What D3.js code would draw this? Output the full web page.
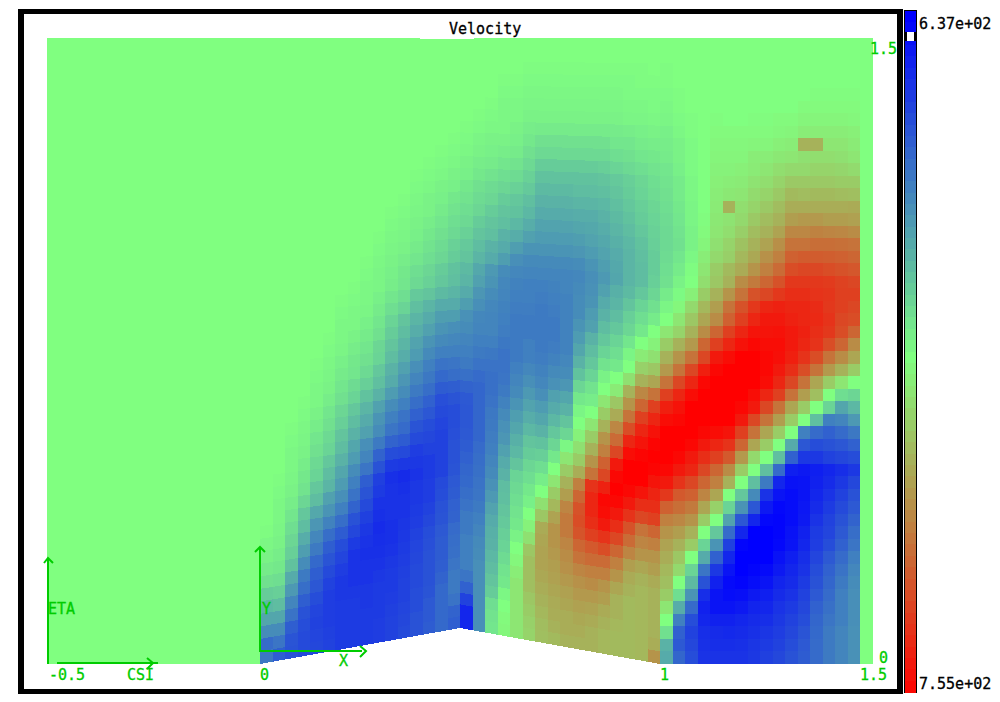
<!DOCTYPE html>
<html><head><meta charset="utf-8">
<script src="https://cdn.jsdelivr.net/npm/d3@7"></script>
<style>html,body{margin:0;background:#fff}svg{display:block}text{font-family:"DejaVu Sans Mono",monospace;font-size:15px;stroke-width:.3px}</style>
</head><body><svg id="c" width="1000" height="702"></svg>
<script>
// Velocity deviation from mid-range, percent of half range. Each list is one mesh column, wall upward; unlisted cells are 0.
const col00=[-53,-58,-45,-35,-28,-20,-12,-8,-5,-3,-1];
const col01=[-63,-54,-45,-35,-26,-19,-13,-9,-7,-5,-4,-3,-3,-2,-1];
const col02=[-68,-67,-63,-55,-48,-40,-33,-24,-19,-16,-13,-10,-7,-5,-4,-3,-3,-2,-1];
const col03=[-71,-71,-70,-68,-63,-57,-52,-45,-38,-32,-26,-22,-16,-11,-9,-7,-5,-4,-3,-2,-1];
const col04=[-72,-73,-74,-73,-70,-66,-63,-59,-52,-47,-41,-34,-26,-22,-17,-15,-12,-10,-7,-5,-3,-3,-2,-1];
const col05=[-74,-75,-76,-76,-76,-74,-71,-67,-63,-57,-49,-42,-37,-29,-26,-22,-17,-15,-12,-10,-7,-5,-4,-3,-2,-1];
const col06=[-77,-77,-77,-77,-78,-78,-76,-73,-70,-64,-57,-50,-44,-39,-35,-30,-26,-23,-19,-16,-12,-10,-8,-6,-4,-3,-3,-2,-1];
const col07=[-77,-77,-77,-77,-78,-80,-80,-80,-77,-72,-68,-61,-55,-50,-45,-39,-35,-30,-26,-22,-17,-14,-10,-9,-7,-5,-3,-3,-2,-1];
const col08=[-77,-77,-77,-78,-78,-80,-80,-81,-80,-78,-75,-71,-67,-63,-54,-48,-44,-37,-33,-29,-24,-19,-15,-12,-10,-8,-6,-4,-3,-3,-2,-1];
const col09=[-76,-76,-77,-77,-77,-78,-80,-81,-82,-83,-81,-80,-77,-75,-68,-61,-52,-45,-42,-37,-30,-25,-22,-17,-16,-12,-10,-8,-6,-4,-4,-3,-2,-1];
const col10=[-74,-74,-75,-76,-77,-77,-78,-80,-81,-81,-80,-80,-80,-81,-77,-70,-61,-54,-50,-45,-39,-33,-30,-26,-23,-20,-17,-13,-10,-7,-6,-5,-4,-3,-2,-1];
const col11=[-71,-72,-73,-74,-74,-75,-76,-77,-78,-79,-80,-80,-81,-83,-78,-71,-64,-58,-55,-50,-45,-41,-37,-32,-29,-26,-23,-17,-13,-10,-9,-7,-5,-4,-3,-2,-1];
const col12=[-68,-68,-70,-70,-71,-71,-72,-73,-74,-76,-77,-78,-78,-80,-78,-76,-71,-67,-62,-57,-52,-48,-44,-39,-36,-32,-29,-25,-21,-15,-13,-10,-8,-6,-5,-4,-3,-2,-1];
const col13=[-64,-65,-65,-67,-68,-68,-68,-69,-70,-72,-74,-76,-76,-77,-77,-74,-72,-70,-66,-62,-57,-53,-50,-46,-42,-37,-33,-29,-23,-18,-16,-13,-11,-9,-7,-5,-5,-3,-2,-1];
const col14=[-59,-59,-59,-59,-61,-63,-64,-64,-65,-67,-68,-70,-71,-74,-74,-74,-74,-73,-71,-69,-64,-59,-55,-50,-46,-42,-38,-33,-27,-22,-20,-16,-14,-12,-10,-8,-6,-5,-3,-2,-1];
const col15=[-63,-61,-55,-52,-52,-54,-56,-57,-58,-61,-62,-64,-65,-67,-68,-68,-69,-70,-70,-67,-63,-57,-54,-50,-47,-44,-38,-33,-29,-25,-24,-20,-18,-15,-13,-11,-9,-6,-5,-3,-2,-1];
const col16=[-85,-85,-74,-62,-54,-50,-50,-50,-52,-52,-55,-57,-59,-60,-62,-64,-65,-66,-66,-65,-61,-56,-52,-50,-48,-45,-43,-38,-33,-29,-27,-23,-21,-18,-15,-13,-11,-9,-6,-5,-3,-2,-1];
const col17=[-44,-44,-44,-44,-44,-44,-45,-46,-48,-50,-52,-54,-55,-56,-57,-58,-60,-60,-60,-60,-60,-58,-55,-52,-50,-48,-47,-44,-41,-37,-34,-29,-26,-23,-20,-16,-14,-12,-9,-7,-5,-4,-2,-1];
const col18=[-10,-11,-13,-20,-23,-26,-28,-30,-31,-33,-36,-40,-43,-46,-48,-50,-51,-52,-53,-55,-56,-56,-55,-53,-50,-48,-48,-47,-45,-42,-40,-33,-30,-25,-23,-20,-16,-14,-11,-8,-6,-5,-3,-2,-1];
const col19=[3,2,0,-3,-9,-11,-14,-17,-19,-21,-23,-25,-26,-30,-33,-37,-41,-43,-46,-49,-52,-54,-55,-55,-53,-51,-50,-49,-48,-47,-45,-38,-33,-30,-25,-23,-20,-16,-13,-10,-7,-5,-3,-3,-3,-2,-1];
const col20=[10,10,10,10,10,7,3,0,-5,-9,-11,-13,-15,-17,-23,-28,-31,-35,-38,-42,-46,-48,-50,-52,-52,-52,-52,-51,-50,-49,-47,-44,-38,-32,-28,-24,-22,-18,-14,-11,-8,-6,-5,-3,-3,-2,-1];
const col21=[17,18,20,22,25,25,25,22,12,5,0,-6,-9,-13,-16,-20,-23,-28,-32,-36,-40,-44,-47,-50,-50,-52,-52,-51,-50,-50,-48,-46,-42,-37,-32,-28,-25,-21,-18,-15,-12,-9,-7,-5,-4,-3,-2,-1];
const col22=[25,26,28,30,32,34,36,36,35,33,22,12,0,-7,-13,-19,-24,-30,-35,-39,-44,-47,-49,-51,-52,-52,-52,-52,-51,-50,-48,-46,-42,-39,-36,-33,-30,-27,-24,-20,-15,-12,-8,-5,-4,-3,-2,-1];
const col23=[27,30,32,33,35,37,38,40,42,42,36,28,20,10,0,-9,-16,-22,-28,-33,-37,-43,-46,-49,-51,-52,-52,-51,-50,-49,-48,-46,-42,-39,-36,-33,-30,-27,-24,-20,-15,-12,-8,-5,-4,-3,-2,-1];
const col24=[30,32,32,35,37,40,43,45,48,52,52,48,38,30,20,10,-3,-16,-23,-30,-35,-41,-45,-47,-49,-49,-49,-49,-49,-48,-48,-46,-42,-39,-36,-33,-30,-27,-24,-20,-15,-12,-8,-5,-4,-3,-2,-1];
const col25=[30,32,34,37,40,43,48,55,60,67,70,68,60,50,32,20,12,5,0,-4,-9,-16,-24,-30,-35,-39,-42,-45,-45,-46,-47,-45,-41,-38,-35,-32,-29,-26,-24,-20,-15,-12,-8,-5,-4,-3,-2,-1];
const col26=[30,30,33,36,40,45,50,58,65,75,82,85,85,80,55,42,30,20,10,0,-7,-11,-17,-22,-26,-30,-37,-39,-42,-43,-44,-42,-39,-36,-34,-32,-29,-26,-24,-20,-15,-12,-8,-5,-4,-3,-2,-1];
const col27=[28,28,30,33,38,42,50,58,70,80,90,95,97,87,72,62,50,42,30,20,10,0,-5,-11,-17,-22,-26,-30,-33,-37,-40,-38,-36,-34,-32,-30,-28,-25,-23,-19,-15,-12,-8,-5,-4,-3,-2,-1];
const col28=[27,27,28,30,30,35,42,50,60,72,82,90,97,100,97,90,72,58,47,33,22,8,0,-9,-13,-17,-22,-26,-29,-31,-35,-34,-33,-31,-29,-27,-25,-23,-21,-17,-13,-10,-8,-5,-4,-3,-2,-1];
const col29=[27,27,27,27,27,30,33,38,48,58,68,80,90,97,100,100,95,85,70,55,42,30,12,0,-4,-10,-16,-19,-23,-27,-29,-29,-29,-28,-26,-24,-22,-20,-19,-15,-12,-10,-7,-4,-3,-2,-2,-1];
const col30=[28,28,28,28,28,28,30,35,42,48,55,72,82,92,100,100,98,92,85,75,60,47,30,18,8,0,-9,-13,-17,-22,-26,-26,-25,-24,-22,-20,-19,-17,-16,-13,-10,-8,-6,-4,-3,-2,-1,-1];
const col31=[42,32,30,30,30,30,33,38,42,50,60,75,82,86,92,98,100,98,93,85,75,55,35,22,12,5,0,-8,-12,-16,-19,-20,-20,-19,-18,-17,-16,-14,-13,-11,-9,-7,-5,-3,-2,-2,-1];
const col32=[-33,-30,-12,0,10,20,25,28,32,36,42,50,62,78,90,97,100,100,100,95,88,75,55,40,30,20,10,0,-4,-8,-12,-13,-14,-15,-15,-14,-13,-12,-11,-10,-8,-7,-6,-4,-3,-2,-1,-1];
const col33=[-60,-65,-62,-50,-32,-13,0,15,22,30,38,47,57,65,80,90,97,100,100,97,93,85,72,55,42,30,17,10,3,-2,-5,-8,-10,-12,-11,-10,-9,-8,-8,-6,-5,-5,-3,-2,-1,-1];
const col34=[-70,-72,-74,-70,-58,-42,-27,-17,0,20,30,42,52,62,72,85,90,97,100,100,100,95,85,72,55,40,30,22,15,6,0,-1,-3,-5,-5,-4,-4,-3,-3,-2,-2,-2,-1,-1];
const col35=[-80,-81,-82,-85,-87,-82,-68,-54,-33,-17,0,20,35,48,60,72,82,90,97,100,100,100,97,88,72,60,45,35,28,20,13,10,7,4,2,1];
const col36=[-80,-82,-83,-87,-92,-92,-87,-78,-62,-42,-22,0,18,35,50,60,75,85,95,100,100,100,100,97,90,75,60,45,38,30,22,20,15,12,10,9,8,7,6,5,4,3,2,1];
const col37=[-80,-82,-84,-87,-92,-95,-96,-92,-85,-75,-58,-36,-17,0,30,45,65,80,92,100,100,100,100,100,95,85,75,62,55,42,30,27,19,17,13,11,30,9,7,5,4,3,2];
const col38=[-80,-81,-83,-85,-90,-94,-98,-100,-100,-98,-85,-66,-42,-22,0,20,40,60,75,90,97,100,100,100,100,93,85,75,68,55,45,33,28,24,19,15,13,10,8,6,4,3,2];
const col39=[-78,-79,-81,-83,-86,-90,-95,-98,-100,-100,-100,-85,-66,-46,-25,0,15,35,55,72,90,95,100,100,100,97,92,85,78,68,52,42,34,30,26,21,17,14,11,8,7,4,2,1];
const col40=[-75,-77,-79,-82,-85,-88,-92,-96,-100,-100,-100,-97,-90,-80,-52,-25,0,20,35,55,72,85,95,97,97,95,92,90,85,72,60,50,43,36,30,26,21,17,13,10,7,4,2,1];
const col41=[-72,-74,-76,-78,-80,-83,-86,-90,-93,-97,-98,-98,-97,-92,-85,-58,-25,0,20,38,55,75,85,90,94,95,93,90,87,78,68,58,50,44,36,30,26,21,17,13,9,6,3,2];
const col42=[-68,-70,-72,-74,-77,-80,-83,-85,-88,-92,-93,-95,-95,-95,-93,-88,-62,-33,0,20,35,55,72,82,88,90,90,87,85,82,78,70,62,55,47,38,32,27,21,15,10,7,4,2];
const col43=[-64,-65,-67,-70,-72,-74,-77,-80,-82,-85,-87,-90,-91,-92,-92,-90,-78,-66,-50,0,20,38,55,70,80,85,87,85,85,82,78,72,64,55,47,40,32,26,21,15,12,30,7,4,2];
const col44=[-58,-58,-59,-60,-62,-65,-68,-70,-73,-76,-77,-80,-83,-85,-87,-88,-78,-70,-58,-25,0,25,35,55,70,80,82,84,83,80,78,72,64,57,49,40,32,27,21,17,13,30,7,4,2,1];
const col45=[-52,-52,-52,-54,-56,-58,-60,-62,-65,-70,-73,-74,-77,-80,-83,-85,-74,-68,-62,-50,-17,0,20,40,55,70,78,80,78,79,77,70,63,57,48,38,32,27,21,17,13,10,7,4,2,1];
const col46=[-48,-48,-48,-50,-50,-50,-52,-55,-58,-62,-65,-68,-71,-74,-78,-82,-72,-66,-58,-48,-35,-13,10,30,45,60,70,72,75,75,74,68,62,56,47,38,32,26,20,16,12,10,7,4,2,1];
const col47=[-43,-43,-43,-44,-44,-44,-45,-47,-50,-54,-57,-61,-65,-68,-72,-78,-70,-62,-53,-40,-28,-16,0,20,35,45,60,70,72,75,72,66,60,55,45,37,33,25,20,14,10,8,6,3,2,1];
const meshColumns=[col00,col01,col02,col03,col04,col05,col06,col07,col08,col09,col10,col11,col12,col13,col14,col15,col16,col17,col18,col19,col20,col21,col22,col23,col24,col25,col26,col27,col28,col29,col30,col31,col32,col33,col34,col35,col36,col37,col38,col39,col40,col41,col42,col43,col44,col45,col46,col47];
const velocityMin=637, velocityMax=755;
const wallX=[0,0.5,1], wallH=[0,0.09,0];
const xTicks=[-0.53,0,1,1.5], xTickLabels=["-0.5","0","1","1.5"];
const ROWS=50, CELL=1/32;

const svg=d3.select("#c");
const x=d3.scaleLinear().domain([0,1.5]).range([260,860]);
const yRow=d3.scaleLinear().domain([0,ROWS]).range([664,38]);
const wall=d3.scaleLinear().domain(wallX).range(wallH).clamp(true);
const pxPerUnit=x(1)-x(0);
const color=d3.scaleLinear().domain([-100,0,100]).range(["rgb(0,0,255)","rgb(128,255,128)","rgb(255,0,0)"]);
const mid=(velocityMin+velocityMax)/2, half=(velocityMax-velocityMin)/2;
const colorV=v=>color((v-mid)/half*100);
const velocity=d=>mid+half*d/100;
const meshY=(r,xv)=>yRow(r)-pxPerUnit*wall(xv)*(1-r/ROWS);

// frame
svg.append("rect").attr("x",18).attr("y",9).attr("width",885).attr("height",685).attr("fill","#000");
svg.append("rect").attr("x",24).attr("y",14).attr("width",873).attr("height",675).attr("fill","#fff");

// neutral far-field blocks left and right of the mesh data
const plot=svg.append("g").attr("shape-rendering","crispEdges");
const neutral=colorV(mid);
plot.append("rect").attr("x",x(-0.5325)).attr("y",yRow(ROWS)).attr("width",x(0)-x(-0.5325)).attr("height",yRow(0)-yRow(ROWS)).attr("fill",neutral);
plot.append("rect").attr("x",x(1.5)).attr("y",yRow(ROWS)).attr("width",x(1.53125)-x(1.5)).attr("height",yRow(0)-yRow(ROWS)).attr("fill",neutral);

const cells=[];
meshColumns.forEach((col,c)=>{for(let r=0;r<ROWS;r++)cells.push({c,r,v:velocity(col[r]??0)});});
plot.selectAll("polygon.cell").data(cells).join("polygon").attr("class","cell")
  .attr("points",d=>{const a=d.c*CELL,b=(d.c+1)*CELL;
    return [[x(a),meshY(d.r,a)],[x(b),meshY(d.r,b)],[x(b),meshY(d.r+1,b)],[x(a),meshY(d.r+1,a)]].join(" ");})
  .attr("fill",d=>colorV(d.v));
// small top notch of the mesh
plot.append("rect").attr("x",x(0.4)).attr("y",yRow(ROWS)).attr("width",x(0.535)-x(0.4)).attr("height",1).attr("fill","#fff");

// colour bar
const bar=svg.append("g").attr("shape-rendering","crispEdges");
const barY=d3.scaleLinear().domain([velocityMin,velocityMax]).range([11,692]);
bar.append("rect").attr("x",904).attr("y",10).attr("width",13).attr("height",683).attr("fill","#000");
const barSteps=d3.range(0,60).map(i=>velocityMin+i*(velocityMax-velocityMin)/60);
bar.selectAll("rect.b").data(barSteps).join("rect").attr("class","b")
  .attr("x",905).attr("width",11)
  .attr("y",d=>barY(d)).attr("height",681/60+1)
  .attr("fill",d=>colorV(d));
bar.append("rect").attr("x",905).attr("y",32).attr("width",11).attr("height",9).attr("fill","#000");
bar.append("rect").attr("x",907).attr("y",32).attr("width",7).attr("height",9).attr("fill","#fff");

// text
const txt=(s,xp,yp,fill)=>svg.append("text").attr("x",xp).attr("y",yp).attr("fill",fill).attr("stroke",fill).text(s);
const G="rgb(0,204,0)";
txt("Velocity",449,34,"#000");
txt("6.37e+02",919,29,"#000");
txt("7.55e+02",919,689,"#000");
xTicks.forEach((t,i)=>txt(xTickLabels[i],x(t)+(i==0?1:0),680,G));
txt("0",879,662.5,G);
txt("1.5",870,54,G);
txt("ETA",48,614,G);
txt("CSI",127,680,G);
txt("Y",262,614,G);
txt("X",339,666,G);

// axes with arrow heads
const line=d3.line();
const ax=svg.append("g").attr("fill","none").attr("stroke",G).attr("stroke-width",2);
const paths=[
 [[48,664],[48,558]],[[44,563],[48,558],[53,563]],
 [[57,663],[158,663]],[[147,658],[153,663],[147,669]],
 [[260,652],[260,547]],[[255,552],[260,547],[265,552]],
 [[260,651],[362,651]],[[360,646],[366,651],[360,657]]
];
ax.selectAll("path").data(paths).join("path").attr("d",line);
</script></body></html>
